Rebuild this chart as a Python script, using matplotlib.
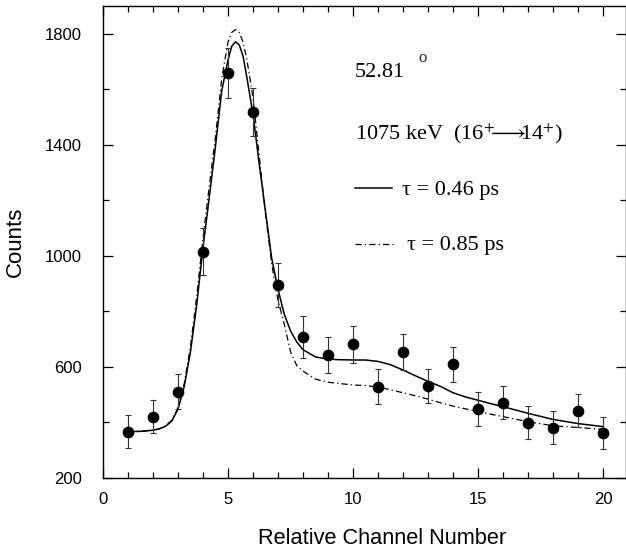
import numpy as np
import matplotlib
matplotlib.use("Agg")
import matplotlib.pyplot as plt
import matplotlib.ticker as plticker

plt.rcParams["font.family"] = ["Liberation Sans", "DejaVu Sans"]
plt.rcParams["mathtext.fontset"] = "stix"

# Measured spectrum: channel, counts, statistical error
channel = [1, 2, 3, 4, 5, 6, 7, 8, 9, 10, 11, 12, 13, 14, 15, 16, 17, 18, 19, 20]
counts = [367, 421, 511, 1015, 1659, 1519, 895, 709, 643, 681,
          529, 655, 532, 609, 447, 471, 399, 381, 442, 361]
count_err = [60, 60, 64, 84, 90, 87, 78, 75, 64, 66,
             62, 65, 62, 63, 61, 60, 59, 59, 60, 58]

# Lineshape fits for the two lifetimes
fit_x = [1.0, 1.5, 2.0, 2.25, 2.5, 2.75, 3.0, 3.25, 3.5, 3.75, 4.0, 4.25, 4.5, 4.75,
         5.0, 5.15, 5.3, 5.45, 5.6, 5.75, 6.0, 6.25, 6.5, 6.75, 7.0, 7.25,
         7.5, 7.75, 8.0, 8.5, 9.0, 9.5, 10.0, 10.5, 11.0, 11.5, 12.0, 12.5,
         13.0, 13.5, 14.0, 14.5, 15.0, 15.5, 16.0, 17.0, 18.0, 19.0, 20.0]
fit_046 = [367, 368, 372, 377, 386, 405, 448, 530, 655, 825, 1030, 1210, 1395, 1595,
           1705, 1755, 1771, 1760, 1720, 1645, 1510, 1330, 1160, 990, 880, 790,
           730, 690, 662, 636, 628, 626, 625, 625, 620, 608, 589, 568,
           548, 530, 507, 492, 480, 468, 457, 433, 411, 396, 385]
fit_085 = [367, 368, 372, 377, 388, 408, 453, 540, 675, 855, 1065, 1250, 1430, 1640,
           1770, 1805, 1815, 1805, 1770, 1710, 1570, 1360, 1150, 970, 840, 755,
           655, 605, 585, 556, 545, 540, 535, 533, 527, 518, 507, 496,
           484, 471, 459, 449, 439, 430, 421, 403, 388, 382, 375]

y_major = [200, 600, 1000, 1400, 1800]
y_minor = [400, 800, 1200, 1600]

fig = plt.figure(figsize=(6.26, 5.52), dpi=100)
ax = fig.add_axes([103 / 626, 74 / 552, 523 / 626, 472 / 552])

ax.plot(fit_x, fit_046, "-", c="k", lw=1.1)
dashdot = (0, (5, 2.5, 1, 2.5))
ax.plot(fit_x, fit_085, linestyle=dashdot, c="k", lw=0.9)
ax.errorbar(channel, counts, yerr=count_err, fmt="o", ms=7.4, mfc="k", mec="k",
            ecolor="#333333", elinewidth=0.8, capsize=2.3, capthick=0.8, zorder=3)

ax.set_xlim(0, 20.92)
ax.set_ylim(200, 1900)
ax.xaxis.set_major_locator(plticker.MultipleLocator(5))
ax.xaxis.set_minor_locator(plticker.MultipleLocator(1))
ax.yaxis.set_major_locator(plticker.FixedLocator(y_major))
ax.yaxis.set_minor_locator(plticker.FixedLocator(y_minor))
ax.tick_params(which="both", direction="in", top=True, right=True, width=0.9)
ax.tick_params(which="major", length=7.5, labelsize=12)
ax.tick_params(axis="x", which="major", pad=10)
ax.tick_params(axis="y", which="major", pad=15)
ax.tick_params(which="minor", length=4.5)
for sp in ax.spines.values():
    sp.set_linewidth(1.0)

ax.set_ylabel("Counts", fontsize=16)
ax.yaxis.set_label_coords(-0.148, 0.5)
fig.text(382 / 626, 1 - 538 / 552, "Relative Channel Number", fontsize=15.7,
         ha="center", va="center")

# Annotation block
serif = ["Liberation Serif", "DejaVu Serif"]
ax.text(10.08, 1643, "52.81", fontsize=16, family=serif, va="baseline")
ax.text(12.6, 1700, "o", fontsize=12, family=serif, va="baseline", color="#222222")
ax.text(10.08, 1420, r"1075 keV  (16$^{+}\!\!\!\longrightarrow\!\!\!$14$^{+}$)",
        fontsize=16, family=serif, va="baseline")
ax.plot([10.08, 11.56], [1244, 1244], "-", c="k", lw=1.1)
ax.text(11.96, 1219, "τ = 0.46 ps", fontsize=16, family=serif, va="baseline")
ax.plot([10.08, 11.6], [1042, 1042], linestyle=dashdot, c="k", lw=0.9)
ax.text(12.16, 1021, "τ = 0.85 ps", fontsize=16, family=serif, va="baseline")

plt.savefig("out.png", dpi=100)
